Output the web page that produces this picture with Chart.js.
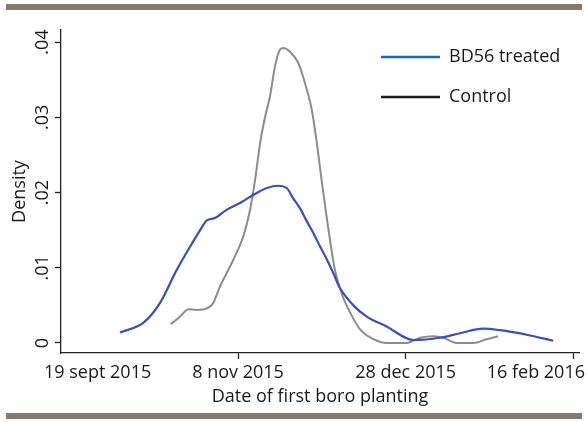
<!DOCTYPE html>
<html>
<head>
<meta charset="utf-8">
<script src="https://cdn.jsdelivr.net/npm/chart.js@4.4.1/dist/chart.umd.min.js"></script>
<style>
  html, body { margin: 0; padding: 0; background: #ffffff; }
  #wrap { width: 588px; height: 422px; }
</style>
</head>
<body>
<div id="wrap"><canvas id="c" width="588" height="422"></canvas></div>
<script>
// Days relative to 8 Nov 2015 (0 = 8 nov 2015)
const treatedDays = [-35.2, -28.2, -23.3, -18.3, -14.3, -11.3, -9.3, -6.9, -3.4, 0.6, 4.6, 8.6, 12.0, 14.5, 16.5, 18.5, 20.5, 22.5, 24.5, 26.5, 28.5, 30.4, 34.4, 38.4, 44.3, 52.3, 60.2, 66.2, 73.2, 78.1, 86.1, 94.0];
const treatedDensity = [0.0014, 0.0027, 0.0053, 0.0097, 0.0128, 0.0150, 0.0163, 0.0166, 0.0177, 0.0186, 0.0197, 0.0206, 0.0209, 0.0206, 0.0192, 0.0179, 0.0162, 0.0146, 0.0128, 0.0111, 0.0092, 0.0073, 0.0050, 0.0035, 0.0022, 0.0004, 0.0007, 0.0013, 0.0019, 0.0017, 0.0011, 0.0003];

const controlDays = [-20.1, -17.3, -14.8, -12.3, -9.3, -7.4, -5.4, -2.9, -0.4, 1.6, 3.6, 5.1, 6.6, 8.1, 9.5, 11.0, 12.5, 13.5, 15.5, 18.0, 20.0, 22.0, 23.5, 25.0, 27.0, 29.0, 31.4, 33.5, 36.4, 40.4, 44.3, 50.3, 54.3, 58.3, 61.2, 65.2, 70.2, 74.1, 77.6];
const controlDensity = [0.0025, 0.0035, 0.0045, 0.0044, 0.0046, 0.0053, 0.0075, 0.0097, 0.0120, 0.0142, 0.0177, 0.0217, 0.0266, 0.0301, 0.0327, 0.0367, 0.0390, 0.0392, 0.0387, 0.0372, 0.0345, 0.0310, 0.0266, 0.0214, 0.0150, 0.0095, 0.0060, 0.0040, 0.0018, 0.0005, 0.0000, 0.0000, 0.0007, 0.0009, 0.0007, 0.0000, 0.0000, 0.0005, 0.0009];

const xTickValues = [-50, 0, 50, 100];
const xTickLabels = ["19 sept 2015", "8 nov 2015", "28 dec 2015", "16 feb 2016"];
const yTickValues = [0, 0.01, 0.02, 0.03, 0.04];
const yTickLabels = ["0", ".01", ".02", ".03", ".04"];
const seriesNames = ["BD56 treated", "Control"];
const xTitle = "Date of first boro planting";
const yTitle = "Density";

const FONT = "'Open Sans', 'Noto Sans', sans-serif";
const TEXT = "#1a1a1a";
const AXIS = "#222222";

function toPoints(xs, ys) { return xs.map((x, i) => ({ x: x, y: ys[i] })); }

const decorPlugin = {
  id: 'decor',
  beforeDraw(chart) {
    const ctx = chart.ctx;
    ctx.save();
    ctx.fillStyle = '#ffffff';
    ctx.fillRect(0, 0, chart.width, chart.height);
    ctx.fillStyle = '#857a70';
    ctx.fillRect(6, 4, chart.width - 12, 6);
    ctx.fillRect(6, 413, chart.width - 12, 6);
    ctx.restore();
  },
  afterDraw(chart) {
    const ctx = chart.ctx;
    const xs = chart.scales.x, ys = chart.scales.y, ca = chart.chartArea;
    ctx.save();
    ctx.fillStyle = TEXT;
    ctx.font = "18px " + FONT;
    // x tick labels, kept inside the figure
    ctx.textAlign = 'center';
    ctx.textBaseline = 'middle';
    const minLeft = ca.left - 17, maxRight = chart.width - 3;
    xTickValues.forEach((v, i) => {
      let px = xs.getPixelForValue(v);
      const w = ctx.measureText(xTickLabels[i]).width;
      if (px - w / 2 < minLeft) px = minLeft + w / 2;
      if (px + w / 2 > maxRight) px = maxRight - w / 2;
      ctx.fillText(xTickLabels[i], px, ca.bottom + 20);
    });
    // y tick labels (rotated)
    yTickValues.forEach((v, i) => {
      const py = ys.getPixelForValue(v);
      ctx.save();
      ctx.translate(ca.left - 18, py);
      ctx.rotate(-Math.PI / 2);
      ctx.textAlign = 'center';
      ctx.textBaseline = 'middle';
      ctx.fillText(yTickLabels[i], 0, 0);
      ctx.restore();
    });
    // legend
    const lx0 = ca.right - 198, lx1 = ca.right - 139, tx = ca.right - 130;
    chart.data.datasets.forEach((ds, i) => {
      const ly = ca.top + 27 + i * 40;
      ctx.strokeStyle = ds.legendColor;
      ctx.lineWidth = 2.5;
      ctx.beginPath();
      ctx.moveTo(lx0, ly);
      ctx.lineTo(lx1, ly);
      ctx.stroke();
      ctx.fillStyle = TEXT;
      ctx.textAlign = 'left';
      ctx.textBaseline = 'middle';
      ctx.fillText(ds.label, tx, ly);
    });
    ctx.restore();
  }
};

new Chart(document.getElementById('c'), {
  type: 'line',
  data: {
    datasets: [
      {
        label: seriesNames[0],
        data: toPoints(treatedDays, treatedDensity),
        borderColor: '#3b50b2',
        legendColor: '#1c64b4',
        borderWidth: 2.2,
        pointRadius: 0,
        cubicInterpolationMode: 'monotone',
        fill: false
      },
      {
        label: seriesNames[1],
        data: toPoints(controlDays, controlDensity),
        borderColor: '#8c8c8c',
        legendColor: '#1a1a1a',
        borderWidth: 2,
        pointRadius: 0,
        cubicInterpolationMode: 'monotone',
        fill: false
      }
    ]
  },
  options: {
    responsive: false,
    animation: false,
    layout: { padding: { left: 0, top: 30, right: 9, bottom: 0 } },
    plugins: { legend: { display: false }, tooltip: { enabled: false } },
    scales: {
      x: {
        type: 'linear',
        min: -52.8,
        max: 101.7,
        afterBuildTicks(scale) { scale.ticks = xTickValues.map(v => ({ value: v })); },
        afterFit(scale) { scale.height = 69; },
        ticks: { display: false },
        grid: {
          drawOnChartArea: false,
          drawTicks: true,
          tickLength: 6,
          tickWidth: 1.3,
          tickColor: (c) => (c.index === 0 ? 'rgba(0,0,0,0)' : AXIS)
        },
        border: { display: true, color: AXIS, width: 1.3 },
        title: {
          display: true,
          text: xTitle,
          color: TEXT,
          font: { family: FONT, size: 18 },
          padding: { top: 0, bottom: 14 }
        }
      },
      y: {
        type: 'linear',
        min: -0.00133,
        max: 0.0416,
        afterBuildTicks(scale) { scale.ticks = yTickValues.map(v => ({ value: v })); },
        afterFit(scale) { scale.width = 61; },
        ticks: { display: false },
        grid: {
          drawOnChartArea: false,
          drawTicks: true,
          tickLength: 6,
          tickWidth: 1.3,
          tickColor: AXIS
        },
        border: { display: true, color: AXIS, width: 1.3 },
        title: {
          display: true,
          text: yTitle,
          color: TEXT,
          font: { family: FONT, size: 18 },
          padding: { top: 9, bottom: 0 }
        }
      }
    }
  },
  plugins: [decorPlugin]
});
</script>
</body>
</html>
